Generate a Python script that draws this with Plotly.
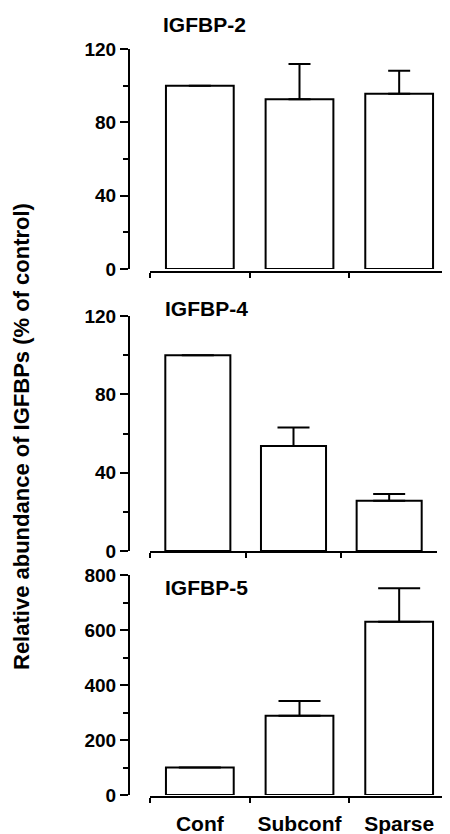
import plotly.graph_objects as go

categories = ["Conf", "Subconf", "Sparse"]
panel_titles = ["IGFBP-2", "IGFBP-4", "IGFBP-5"]

igfbp2_values = [100, 92.6, 95.6]
igfbp2_err = [None, 19.2, 12.6]
igfbp4_values = [100, 53.6, 25.7]
igfbp4_err = [None, 9.4, 3.4]
igfbp5_values = [100, 288, 630]
igfbp5_err = [None, 54, 122]

y_ranges = [[0, 120], [0, 120], [0, 800]]
y_minor = [20, 20, 100]
y_tickvals = [[0, 40, 80, 120], [0, 40, 80, 120], [0, 200, 400, 600, 800]]

# page has an 8px body margin; figure sized to fit the window exactly
OFF = 8
W, H = 450 - OFF, 834 - OFF
FONT = "Liberation Sans, Arial, Helvetica, sans-serif"

def fx(px):
    return (px - OFF) / W

def fy(py):
    return 1 - (py - OFF) / H

# pixel geometry per panel: (x0, x1, y_zero, y_top, xaxis_y, cap_width)
geom = [
    (150, 449, 269, 49, 272, 11),
    (150, 437, 551, 316, 552, 16),
    (150, 449, 795, 575, 797, 21),
]

values = [igfbp2_values, igfbp4_values, igfbp5_values]
errs = [igfbp2_err, igfbp4_err, igfbp5_err]

fig = go.Figure()
layout = dict(
    template="none",
    width=W, height=H, autosize=False,
    margin=dict(l=0, r=0, t=0, b=0, pad=0),
    paper_bgcolor="white", plot_bgcolor="white",
    showlegend=False,
    font=dict(family=FONT, color="black"),
)

annotations = []
for i in range(3):
    n = "" if i == 0 else str(i + 1)
    x0, x1, yz, yt, xay, cap = geom[i]
    fig.add_trace(go.Bar(
        x=categories, y=values[i],
        xaxis="x" + n, yaxis="y" + n,
        width=0.68,
        marker=dict(color="white", line=dict(color="black", width=2)),
        error_y=dict(type="data", symmetric=False, array=errs[i],
                     arrayminus=[None, 0, 0], color="black", thickness=2, width=cap),
    ))
    layout["xaxis" + n] = dict(
        domain=[fx(x0), fx(x1)],
        range=[-0.5, 2.5],
        anchor="free", position=fy(xay),
        showline=True, linecolor="black", linewidth=2,
        ticks="outside", ticklen=5, tickwidth=2, tickcolor="black",
        tickson="boundaries",
        showgrid=False, zeroline=False,
        showticklabels=(i == 2),
        ticklabelstandoff=8,
        automargin=False,
        tickfont=dict(family=FONT, size=21, weight="bold", color="black"),
        fixedrange=True,
    )
    layout["yaxis" + n] = dict(
        domain=[fy(yz), fy(yt)],
        range=y_ranges[i],
        anchor="free", position=fx(129),
        showline=True, linecolor="black", linewidth=2,
        ticks="outside", ticklen=8, tickwidth=2, tickcolor="black",
        tickvals=y_tickvals[i],
        minor=dict(ticks="outside", ticklen=5, tickwidth=2, tickcolor="black",
                   dtick=y_minor[i], tick0=0, showgrid=False),
        showgrid=False, zeroline=False,
        automargin=False,
        tickfont=dict(family=FONT, size=19, weight="bold", color="black"),
        fixedrange=True,
    )

title_pos = [(161, 25), (163, 309), (163, 587)]
for t, (px, py) in zip(panel_titles, title_pos):
    annotations.append(dict(
        text="<b>" + t + "</b>", x=fx(px), y=fy(py), xref="paper", yref="paper",
        xanchor="left", yanchor="middle", showarrow=False,
        font=dict(family=FONT, size=21, color="black"),
    ))

annotations.append(dict(
    text="<b>Relative abundance of IGFBPs (% of control)</b>",
    x=fx(21), y=fy(437), xref="paper", yref="paper",
    xanchor="center", yanchor="middle", showarrow=False, textangle=-90,
    font=dict(family=FONT, size=22, color="black"),
))

layout["annotations"] = annotations
fig.update_layout(**layout)
fig.write_html("out.html")
